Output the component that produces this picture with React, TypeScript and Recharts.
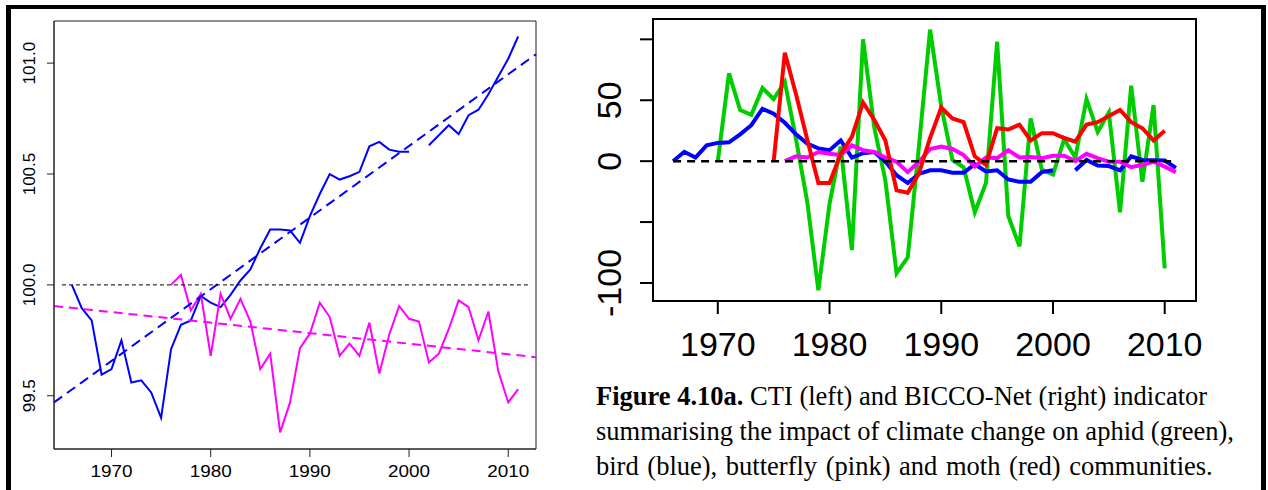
import React from 'react';
import { LineChart, Line, XAxis, YAxis, ReferenceArea } from 'recharts';

// years shared by both panels
const years = [
  1966, 1967, 1968, 1969, 1970, 1971, 1972, 1973, 1974, 1975,
  1976, 1977, 1978, 1979, 1980, 1981, 1982, 1983, 1984, 1985,
  1986, 1987, 1988, 1989, 1990, 1991, 1992, 1993, 1994, 1995,
  1996, 1997, 1998, 1999, 2000, 2001, 2002, 2003, 2004, 2005,
  2006, 2007, 2008, 2009, 2010, 2011,
];

// left panel: CTI
const ctiBird = [
  100.0, 99.895, 99.84, 99.595, 99.62, 99.75, 99.56, 99.57, 99.515, 99.4,
  99.71, 99.82, 99.84, 99.95, 99.92, 99.9, 99.955, 100.02, 100.07, 100.165,
  100.25, 100.25, 100.245, 100.19, 100.31, 100.41, 100.5, 100.475, 100.49, 100.51,
  100.625, 100.645, 100.61, 100.6, 100.6, null, 100.63, 100.675, 100.72, 100.68,
  100.765, 100.79, 100.86, 100.94, 101.02, 101.12,
];
const ctiButterfly = [
  null, null, null, null, null, null, null, null, null, null,
  100.0, 100.045, 99.885, 99.96, 99.68, 99.96, 99.847, 99.937, 99.835, 99.62,
  99.69, 99.335, 99.47, 99.715, 99.78, 99.92, 99.855, 99.68, 99.735, 99.68,
  99.83, 99.6, 99.775, 99.905, 99.847, 99.835, 99.65, 99.69, 99.8, 99.93,
  99.9, 99.75, 99.88, 99.61, 99.47, 99.53,
];
// fitted trend lines, read at the plot edges
const trendYears = [1964.2, 2012.8];
const birdTrend = [99.47, 101.04];
const butterflyTrend = [99.905, 99.674];
const refYearsLeft = [1965, 2012];
const refLeft = [100, 100];

const leftXTicks = [1970, 1980, 1990, 2000, 2010];
const leftYTicks = [99.5, 100, 100.5, 101];
const leftXDomain = [1964.2, 2012.8];
const leftYDomain = [99.26, 101.19];

// right panel: BICCO-Net
const aphid = [
  null, null, null, null, 0, 72, 42, 38, 60, 51,
  65, 18, -33, -106, -35, 12, -73, 100, 28, -16,
  -92, -79, 12, 108, 45, 1, -5, -42, -18, 98,
  -45, -70, 35, -7, -11, 18, 3, 51, 24, 40,
  -42, 62, -17, 46, -88, null,
];
const bird = [
  0, 7.7, 3, 13, 15, 15.5, 22, 29.5, 43, 39,
  31.5, 22, 14.5, 10.5, 9, 17, 3, 6.5, 7.5, -0.5,
  -11.5, -18, -10.5, -7.5, -7.5, -9.5, -9.5, -2.5, -8.5, -7.5,
  -15, -17, -17, -9, -7.5, null, -7.5, 1, -3.5, -4,
  -7.5, 4, 1, 0.8, 0.5, -5.5,
];
const butterfly = [
  null, null, null, null, null, null, null, null, null, null,
  0, 4, 3, 7.5, 6, 5, 13, 9, 7.5, 3,
  -0.5, -9, -0.5, 10, 12, 10, 5, -4.5, 3, 2.5,
  9, 3, 3.5, 2.5, 4.5, 4.5, 0, 6, 2.5, -0.5,
  -0.5, -5, -3, -0.5, -4.5, -9,
];
const moth = [
  null, null, null, null, null, null, null, null, null, 0,
  89, 55, 18, -18, -18, 6, 20, 48, 34, 17,
  -24, -26, -10, 19, 44, 35, 32, 4, -3, 27,
  26, 30, 17, 23, 23, 19, 16, 30, 32, 37,
  42, 32, 27, 17, 25, null,
];
const refYearsRight = [1966, 2011];
const refRight = [0, 0];

const rightXTicks = [1970, 1980, 1990, 2000, 2010];
const rightYTicks = [-100, -50, 0, 50, 100];
const rightYLabels = [50, 0, -100];
const rightXDomain = [1964.2, 2012.8];
const rightYDomain = [-114.8, 116.7];

const leftData = years.map((year, i) => ({ year, bird: ctiBird[i], butterfly: ctiButterfly[i] }));
const rightData = years.map((year, i) => ({
  year,
  aphid: aphid[i],
  bird: bird[i],
  butterfly: butterfly[i],
  moth: moth[i],
}));
const pairs = (xs: number[], vs: number[]) => xs.map((year, i) => ({ year, v: vs[i] }));

const SANS = '"Liberation Sans", Arial, Helvetica, sans-serif';

function LeftYTick({ x, y, payload }: any) {
  return (
    <text x={x} y={y} transform={`rotate(-90 ${x} ${y})`} textAnchor="middle" fontSize={17} fontFamily={SANS} fill="#000">
      {Number(payload.value).toFixed(1)}
    </text>
  );
}

function LeftXTick({ x, y, payload }: any) {
  return (
    <text x={x} y={y} dy="0.71em" textAnchor="middle" fontSize={16} fontFamily={SANS} fill="#000" textLength={42} lengthAdjust="spacingAndGlyphs">
      {payload.value}
    </text>
  );
}

function RightYTick({ x, y, payload }: any) {
  if (!rightYLabels.includes(payload.value)) return <g />;
  return (
    <text x={x} y={y} transform={`rotate(-90 ${x} ${y})`} textAnchor="middle" fontSize={34} fontFamily={SANS} fill="#000">
      {payload.value}
    </text>
  );
}

function RightXTick({ x, y, payload }: any) {
  return (
    <text x={x} y={y} dy="0.71em" textAnchor="middle" fontSize={34} fontFamily={SANS} fill="#000">
      {payload.value}
    </text>
  );
}

export default function App() {
  return (
    <div style={{ position: 'absolute', left: 0, top: 0, width: 1268, height: 490, overflow: 'hidden', background: '#fff' }}>
      <div
        style={{
          position: 'absolute',
          left: 6,
          top: 5,
          width: 1260,
          height: 600,
          boxSizing: 'border-box',
          borderStyle: 'solid',
          borderColor: '#000',
          borderWidth: '4px 5px 5px 5px',
        }}
      />

      {/* left panel */}
      <div style={{ position: 'absolute', left: 0, top: 0 }}>
        <LineChart width={560} height={490} data={leftData} margin={{ top: 21, right: 24, bottom: 1, left: 14 }}>
          <XAxis
            dataKey="year"
            type="number"
            domain={leftXDomain}
            ticks={leftXTicks}
            interval={0}
            height={40}
            tickSize={8}
            tickMargin={9}
            tick={<LeftXTick />}
            axisLine={{ stroke: '#222', strokeWidth: 1 }}
            tickLine={{ stroke: '#222', strokeWidth: 1 }}
          />
          <YAxis
            type="number"
            domain={leftYDomain}
            ticks={leftYTicks}
            interval={0}
            width={40}
            tickSize={7}
            tickMargin={12}
            tick={<LeftYTick />}
            axisLine={{ stroke: '#222', strokeWidth: 1 }}
            tickLine={{ stroke: '#222', strokeWidth: 1 }}
          />
          <ReferenceArea
            x1={leftXDomain[0]}
            x2={leftXDomain[1]}
            y1={leftYDomain[0]}
            y2={leftYDomain[1]}
            fill="none"
            fillOpacity={0}
            stroke="#222"
            strokeWidth={1}
          />
          <Line dataKey="bird" stroke="#0000ff" strokeWidth={2} dot={false} activeDot={false} isAnimationActive={false} />
          <Line dataKey="butterfly" stroke="#ff00ff" strokeWidth={2} dot={false} activeDot={false} isAnimationActive={false} />
          <Line data={pairs(trendYears, birdTrend)} dataKey="v" stroke="#0000ff" strokeWidth={2} strokeDasharray="10 6" dot={false} activeDot={false} isAnimationActive={false} />
          <Line data={pairs(trendYears, butterflyTrend)} dataKey="v" stroke="#ff00ff" strokeWidth={2} strokeDasharray="9 6" dot={false} activeDot={false} isAnimationActive={false} />
          <Line data={pairs(refYearsLeft, refLeft)} dataKey="v" stroke="#000" strokeWidth={1} strokeDasharray="4 3" dot={false} activeDot={false} isAnimationActive={false} />
        </LineChart>
      </div>

      {/* right panel */}
      <div style={{ position: 'absolute', left: 560, top: 0 }}>
        <LineChart width={708} height={490} data={rightData} margin={{ top: 19, right: 72, bottom: 129, left: 33 }}>
          <XAxis
            dataKey="year"
            type="number"
            domain={rightXDomain}
            ticks={rightXTicks}
            interval={0}
            height={60}
            tickSize={13}
            tickMargin={18}
            tick={<RightXTick />}
            axisLine={{ stroke: '#000', strokeWidth: 2 }}
            tickLine={{ stroke: '#000', strokeWidth: 2 }}
          />
          <YAxis
            type="number"
            domain={rightYDomain}
            ticks={rightYTicks}
            interval={0}
            width={60}
            tickSize={13}
            tickMargin={19}
            tick={<RightYTick />}
            axisLine={{ stroke: '#000', strokeWidth: 2 }}
            tickLine={{ stroke: '#000', strokeWidth: 2 }}
          />
          <ReferenceArea
            x1={rightXDomain[0]}
            x2={rightXDomain[1]}
            y1={rightYDomain[0]}
            y2={rightYDomain[1]}
            fill="none"
            fillOpacity={0}
            stroke="#000"
            strokeWidth={2}
          />
          <Line dataKey="aphid" stroke="#00cd00" strokeWidth={4} dot={false} activeDot={false} isAnimationActive={false} />
          <Line dataKey="bird" stroke="#0000ff" strokeWidth={4} dot={false} activeDot={false} isAnimationActive={false} />
          <Line dataKey="butterfly" stroke="#ff00ff" strokeWidth={4} dot={false} activeDot={false} isAnimationActive={false} />
          <Line dataKey="moth" stroke="#ff0000" strokeWidth={4} dot={false} activeDot={false} isAnimationActive={false} />
          <Line data={pairs(refYearsRight, refRight)} dataKey="v" stroke="#000" strokeWidth={2.5} strokeDasharray="8 6" dot={false} activeDot={false} isAnimationActive={false} />
        </LineChart>
      </div>

      <div
        style={{
          position: 'absolute',
          left: 596,
          top: 379,
          fontFamily: '"Liberation Serif", "Times New Roman", serif',
          fontSize: 26.5,
          lineHeight: '35px',
          color: '#000',
          whiteSpace: 'nowrap',
        }}
      >
        <div>
          <b>Figure 4.10a.</b> CTI (left) and BICCO-Net (right) indicator
        </div>
        <div>summarising the impact of climate change on aphid (green),</div>
        <div style={{ wordSpacing: 2 }}>bird (blue), butterfly (pink) and moth (red) communities.</div>
      </div>
    </div>
  );
}
